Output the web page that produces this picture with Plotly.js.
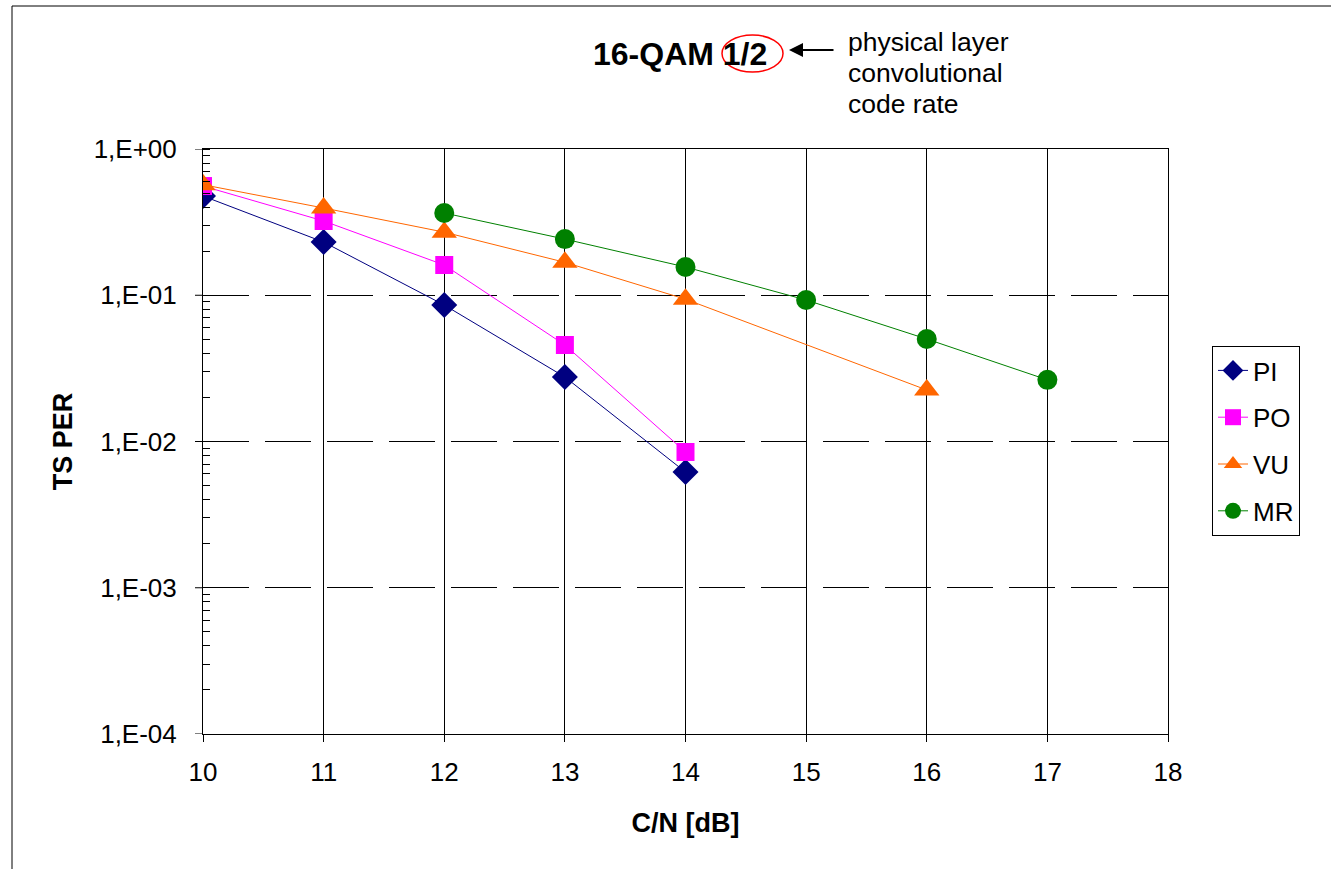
<!DOCTYPE html>
<html>
<head>
<meta charset="utf-8">
<script src="https://cdn.plot.ly/plotly-3.0.1.min.js"></script>
<style>
html,body{margin:0;padding:0;background:#fff;}
#chart{width:1331px;height:869px;}
</style>
</head>
<body>
<div id="chart"></div>
<script>
// ---- data ----
const xPI = [10, 11, 12, 13, 14];
const yPI = [0.477, 0.231, 0.0857, 0.0276, 0.00618];
const xPO = [10, 11, 12, 13, 14];
const yPO = [0.558, 0.322, 0.161, 0.0457, 0.00848];
const xVU = [10, 11, 12, 13, 14, 16];
const yVU = [0.57, 0.395, 0.27, 0.168, 0.094, 0.0225];
const xMR = [12, 13, 14, 15, 16, 17];
const yMR = [0.365, 0.242, 0.156, 0.0928, 0.0502, 0.0264];
const seriesNames = ["PI", "PO", "VU", "MR"];
const yTickVals = [1e-4, 1e-3, 1e-2, 1e-1, 1];
const yTickText = ["1,E-04", "1,E-03", "1,E-02", "1,E-01", "1,E+00"];
const xTickVals = [10, 11, 12, 13, 14, 15, 16, 17, 18];
const titleText = "<b>16-QAM 1/2</b>";
const noteLines = ["physical layer", "convolutional", "code rate"];

const FONT = "Liberation Sans, Arial, sans-serif";

function tr(x, y, name, color, symbol, size) {
  return {
    x: x, y: y, name: name, legendgroup: name, type: "scatter", mode: "lines+markers",
    line: {color: color, width: 1},
    marker: {color: color, symbol: symbol, size: size, line: {width: 0}}
  };
}

const data = [
  tr(xPI, yPI, seriesNames[0], "#000080", "diamond", 20),
  tr(xPO, yPO, seriesNames[1], "#FF00FF", "square", 18),
  tr(xVU, yVU, seriesNames[2], "#FF6600", "triangle-up", 22),
  tr(xMR, yMR, seriesNames[3], "#008000", "circle", 20)
];

// plot area pixel geometry
const L = 203, R = 1168, T = 149, B = 734, W = 1331, H = 869;
const px = X => (X - L) / (R - L);
const py = Y => (B - Y) / (B - T);

const noteAnn = noteLines.map((t, i) => ({
  xref: "paper", yref: "paper", x: px(846), y: py(42 + i * 31),
  xanchor: "left", yanchor: "middle", text: t, showarrow: false,
  font: {family: FONT, size: 26.5, color: "#000"}
}));

// visible short major ticks on the y axis (labels sit further out)
const yTickShapes = yTickVals.map(v => ({
  type: "line", xref: "paper", yref: "y", x0: px(195), x1: 0, y0: v, y1: v,
  line: {color: "#000", width: 1}
}));

const layout = {
  width: W, height: H,
  margin: {l: L, r: W - R, t: T, b: H - B, pad: 0, autoexpand: false},
  paper_bgcolor: "#fff", plot_bgcolor: "#fff",
  font: {family: FONT, size: 26, color: "#000"},
  showlegend: true,
  legend: {
    x: px(1212), y: py(346), xanchor: "left", yanchor: "top",
    bordercolor: "#000", borderwidth: 1, bgcolor: "#fff",
    font: {family: FONT, size: 26, color: "#000"},
    traceorder: "grouped", tracegroupgap: 10
  },
  xaxis: {
    type: "linear", range: [10, 18],
    tickmode: "array", tickvals: xTickVals,
    ticks: "outside", ticklen: 7, tickcolor: "#000", tickwidth: 1,
    ticklabelstandoff: 8,
    showline: true, linecolor: "#000", linewidth: 1, mirror: true,
    showgrid: true, gridcolor: "#000", gridwidth: 1,
    zeroline: false,
    tickfont: {family: FONT, size: 26, color: "#000"},
    title: {text: "<b>C/N [dB]</b>", font: {family: FONT, size: 27, color: "#000"}, standoff: 26}
  },
  yaxis: {
    type: "log", range: [-4, 0], automargin: true,
    tickmode: "array", tickvals: yTickVals, ticktext: yTickText,
    ticks: "outside", ticklen: 20, tickcolor: "rgba(255,255,255,0)", tickwidth: 1,
    showline: true, linecolor: "#000", linewidth: 1, mirror: true,
    showgrid: true, gridcolor: "#000", gridwidth: 1, griddash: "46px,16px",
    zeroline: false,
    minor: {ticks: "inside", ticklen: 7, tickcolor: "#000", tickwidth: 1, showgrid: false, dtick: "D1"},
    tickfont: {family: FONT, size: 26, color: "#000"},
    title: {text: "<b>TS PER</b>", font: {family: FONT, size: 27, color: "#000"}, standoff: 13}
  },
  shapes: [
    {type: "rect", xref: "paper", yref: "paper",
     x0: px(12), x1: px(1500), y0: py(1000), y1: py(6),
     line: {color: "#000", width: 1}, fillcolor: "rgba(0,0,0,0)", layer: "below"},
    {type: "circle", xref: "paper", yref: "paper",
     x0: px(722), x1: px(783), y0: py(72), y1: py(35),
     line: {color: "#FF0000", width: 1.5}},
    ...yTickShapes
  ],
  annotations: [
    {xref: "paper", yref: "paper", x: px(591), y: py(54), xanchor: "left", yanchor: "middle",
     text: titleText, showarrow: false, font: {family: FONT, size: 32, color: "#000"}},
    ...noteAnn,
    {xref: "paper", yref: "paper", axref: "pixel", ayref: "pixel",
     x: px(789), y: py(50), ax: 46, ay: 0, text: "", showarrow: true,
     arrowhead: 2, arrowsize: 1.4, arrowwidth: 2, arrowcolor: "#000"}
  ]
};

Plotly.newPlot("chart", data, layout, {displayModeBar: false, staticPlot: true});
</script>
</body>
</html>
